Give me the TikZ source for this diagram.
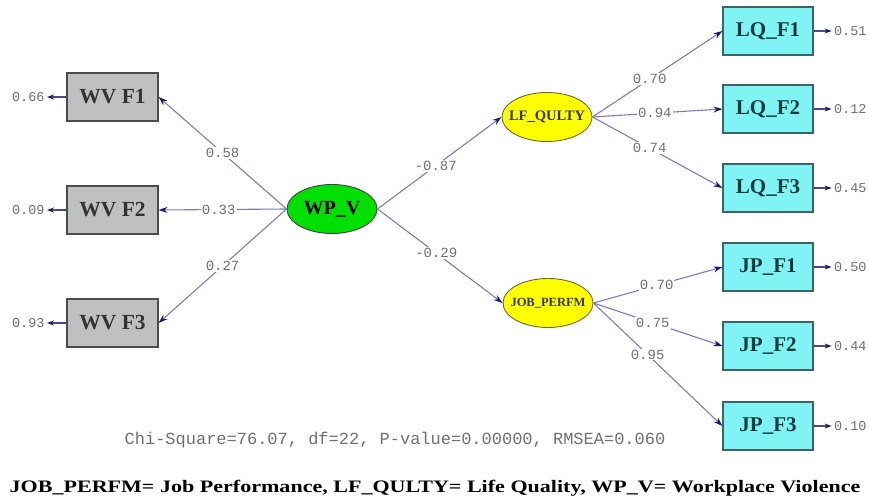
\documentclass[tikz,border=0pt]{standalone}
\usepackage{fontspec}
\setmainfont{Liberation Serif}
\newfontfamily\monofont{Liberation Mono}
\usetikzlibrary{arrows.meta,shapes.geometric}

\definecolor{boxgray}{HTML}{C0C0C0}
\definecolor{boxcyan}{HTML}{80F4F4}
\definecolor{latgreen}{HTML}{00E000}
\definecolor{latyellow}{HTML}{FFFF00}
\definecolor{pathline}{HTML}{7C7CC4}
\definecolor{headnavy}{HTML}{1A1A70}
\definecolor{numgray}{HTML}{707070}
\definecolor{tealtext}{HTML}{0E3C3C}

\newcommand{\latlabel}[1]{\makebox[0pt]{#1}}

\tikzset{
  obsgray/.style={draw=black!70, fill=boxgray, line width=1.2pt, minimum width=91pt,
    minimum height=48pt, inner sep=0pt, font=\bfseries\fontsize{21.5}{21.5}\selectfont, text=black!80},
  obscyan/.style={draw=tealtext!80, fill=boxcyan, line width=1.2pt, minimum width=90pt,
    minimum height=48pt, inner sep=0pt, font=\bfseries\fontsize{21}{21}\selectfont, text=tealtext},
  latent/.style={ellipse, line width=0.9pt, inner sep=0pt, minimum width=90pt, minimum height=49pt},
  path/.style={draw=pathline, line width=1.1pt, -{Stealth[length=9pt,width=6pt,color=headnavy]}},
  errpath/.style={draw=headnavy!80, line width=1.1pt, -{Stealth[length=7pt,width=5pt,color=headnavy]}},
  coef/.style={fill=white, inner sep=1pt, text=numgray, font=\monofont\fontsize{14}{14}\selectfont},
  errlab/.style={inner sep=0pt, text=numgray, font=\monofont\fontsize{13.5}{13.5}\selectfont},
}

\begin{document}
\begin{tikzpicture}[x=1pt, y=-1pt]
\useasboundingbox (0,0) rectangle (869,502);
\fill[white] (0,0) rectangle (869,502);

% observed indicators of workplace violence
\node[obsgray] (wv1) at (112.5,97) {WV F1};
\node[obsgray] (wv2) at (112.5,210) {WV F2};
\node[obsgray] (wv3) at (112.5,323) {WV F3};

% latent variables (fixed ellipse size, labels do not widen them)
\node[latent, draw=black!75, fill=latgreen, font=\bfseries\fontsize{20}{20}\selectfont] (wpv) at (332,209) {\latlabel{WP\_V}};
\node[latent, draw=olive!70!black, fill=latyellow, font=\bfseries\fontsize{14.5}{14.5}\selectfont, text=black!80] (lfq) at (547,117) {\latlabel{LF\_QULTY}};
\node[latent, draw=olive!70!black, fill=latyellow, font=\bfseries\fontsize{12.5}{12.5}\selectfont, text=black!80] (jobp) at (548,303) {\latlabel{JOB\_PERFM}};

% observed indicators of life quality and job performance
\node[obscyan] (lq1) at (768,31) {LQ\_F1};
\node[obscyan] (lq2) at (768,109) {LQ\_F2};
\node[obscyan] (lq3) at (768,188) {LQ\_F3};
\node[obscyan] (jp1) at (768,267) {JP\_F1};
\node[obscyan] (jp2) at (768,346) {JP\_F2};
\node[obscyan] (jp3) at (768,426) {JP\_F3};

% loadings of WP_V
\draw[path] (wpv.west) -- node[coef, pos=0.5] {0.58} (wv1.east);
\draw[path] (wpv.west) -- node[coef, pos=0.53] {0.33} (wv2.east);
\draw[path] (wpv.west) -- node[coef, pos=0.5] {0.27} (wv3.east);

% structural paths
\draw[path] (wpv.east) -- node[coef, pos=0.47] {-0.87} (lfq.west);
\draw[path] (wpv.east) -- node[coef, pos=0.47] {-0.29} (jobp.west);

% loadings of LF_QULTY
\draw[path] (lfq.east) -- node[coef, pos=0.44] {0.70} (lq1.west);
\draw[path] (lfq.east) -- node[coef, pos=0.48] {0.94} (lq2.west);
\draw[path] (lfq.east) -- node[coef, pos=0.44] {0.74} (lq3.west);

% loadings of JOB_PERFM
\draw[path] (jobp.east) -- node[coef, pos=0.49] {0.70} (jp1.west);
\draw[path] (jobp.east) -- node[coef, pos=0.46] {0.75} (jp2.west);
\draw[path] (jobp.east) -- node[coef, pos=0.42] {0.95} (jp3.west);

% error variances
\coordinate (e1) at (47,97);
\coordinate (e2) at (47,210);
\coordinate (e3) at (47,323);
\draw[errpath] (wv1.west) -- (e1);
\draw[errpath] (wv2.west) -- (e2);
\draw[errpath] (wv3.west) -- (e3);
\node[errlab, anchor=east] at (e1) {0.66\,};
\node[errlab, anchor=east] at (e2) {0.09\,};
\node[errlab, anchor=east] at (e3) {0.93\,};

\foreach \b/\v in {lq1/0.51, lq2/0.12, lq3/0.45, jp1/0.50, jp2/0.44, jp3/0.10}{
  \coordinate (\b e) at ([xshift=18pt]\b.east);
  \draw[errpath] (\b.east) -- (\b e);
  \node[errlab, anchor=west] at (\b e) {\,\v};
}

% fit statistics and legend
\node[text=numgray, font=\monofont\fontsize{17}{17}\selectfont, inner sep=0pt] (fit) at (395,440)
  {Chi-Square=76.07, df=22, P-value=0.00000, RMSEA=0.060};
\node[font=\bfseries\fontsize{17.5}{17.5}\selectfont, inner sep=0pt] (legend) at (435,488)
  {\scalebox{1.26}[1]{JOB\_PERFM= Job Performance, LF\_QULTY= Life Quality, WP\_V= Workplace Violence}};
\end{tikzpicture}
\end{document}
